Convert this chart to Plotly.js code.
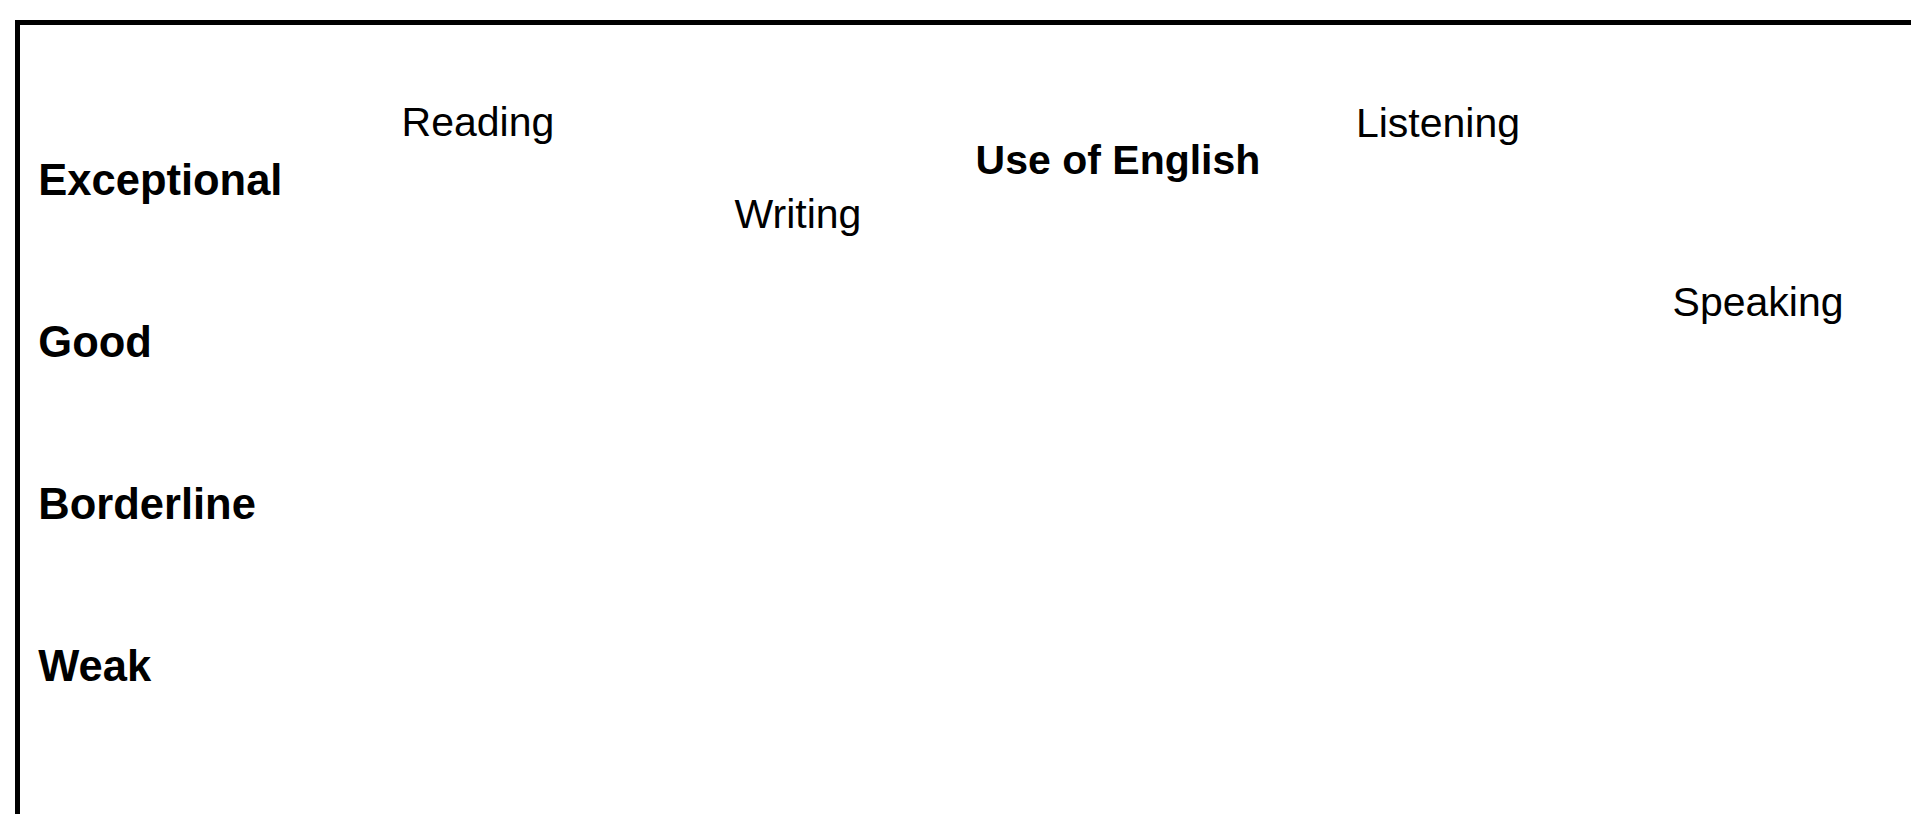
<!DOCTYPE html>
<html>
<head>
<meta charset="utf-8">
<script src="https://cdn.plot.ly/plotly-3.0.1.min.js"></script>
<style>
  html, body { margin: 0; padding: 0; background: #ffffff; }
  #chart { width: 1911px; height: 814px; }
</style>
</head>
<body>
<div id="chart"></div>
<script>
// Skills (categories) and the level each reached (1 = Weak ... 4 = Exceptional)
const skills = ["Reading", "Writing", "Use of English", "Listening", "Speaking"];
const skillLevels = [4.335, 3.77, 4.10, 4.33, 3.225];

// Level scale (y axis)
const levelValues = [4, 3, 2, 1];
const levelLabels = ["Exceptional", "Good", "Borderline", "Weak"];

const skillPositions = skills.map((s, i) => i);

const trace = {
  type: "scatter",
  mode: "text",
  x: skillPositions,
  y: skillLevels,
  text: skills.map(s => s === "Use of English" ? "<b>" + s + "</b>" : s),
  textposition: "middle center",
  textfont: { family: "Liberation Sans, Arial, sans-serif", size: 41, color: "#000000" },
  hoverinfo: "skip",
  showlegend: false
};

const layout = {
  width: 1911,
  height: 814,
  margin: { l: 20, r: 0, t: 25, b: 0, pad: 0 },
  paper_bgcolor: "#ffffff",
  plot_bgcolor: "#ffffff",
  showlegend: false,
  xaxis: {
    range: [-1.431, 4.478],
    side: "top",
    showline: true,
    linecolor: "#000000",
    linewidth: 5,
    showgrid: false,
    zeroline: false,
    showticklabels: false,
    ticks: "",
    fixedrange: true
  },
  yaxis: {
    range: [0.086, 4.957],
    showline: true,
    linecolor: "#000000",
    linewidth: 5,
    showgrid: false,
    zeroline: false,
    tickmode: "array",
    tickvals: levelValues,
    ticktext: levelLabels.map(l => "<b>" + l + "</b>"),
    ticklabelposition: "inside",
    ticklabelstandoff: 24,
    ticks: "",
    tickfont: { family: "Liberation Sans, Arial, sans-serif", size: 43.5, color: "#000000" },
    fixedrange: true
  }
};

Plotly.newPlot("chart", [trace], layout, { staticPlot: true, displayModeBar: false });
</script>
</body>
</html>
